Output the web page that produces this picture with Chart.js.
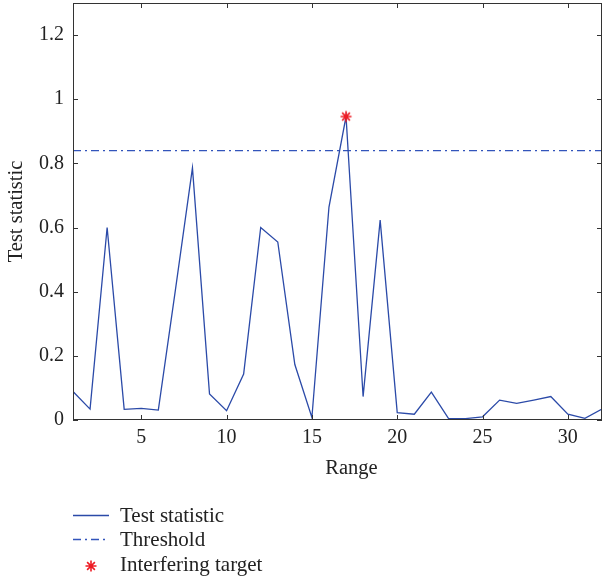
<!DOCTYPE html>
<html><head><meta charset="utf-8">
<script src="https://cdn.jsdelivr.net/npm/chart.js@4/dist/chart.umd.min.js"></script>
<style>html,body{margin:0;padding:0;background:#fff}#wrap{width:603px;height:583px}</style>
</head><body><div id="wrap"><canvas id="c" width="603" height="583"></canvas></div>
<script>
const rangeCells = [1,2,3,4,5,6,7,8,9,10,11,12,13,14,15,16,17,18,19,20,21,22,23,24,25,26,27,28,29,30,31,32];
const testStatistic = [0.089,0.034,0.600,0.033,0.036,0.031,0.405,0.786,0.081,0.029,0.143,0.600,0.555,0.173,0.008,0.664,0.946,0.073,0.623,0.023,0.018,0.087,0.005,0.004,0.010,0.062,0.052,0.062,0.073,0.018,0.005,0.034];
const thresholdRange = [1,32];
const thresholdValue = [0.84,0.84];
const targetRange = [17];
const targetValue = [0.946];
const xTicks = [5,10,15,20,25,30];
const yTicks = [0,0.2,0.4,0.6,0.8,1,1.2];
const seriesLabels = ['Test statistic','Threshold','Interfering target'];
const xTitle = 'Range';
const yTitle = 'Test statistic';

const FONT = 'Liberation Serif';
const lineColor = '#2b4aa8';
const dashColor = '#3355bb';
const starColor = '#ee1c25';

function drawAsterisk(ctx, cx, cy, r) {
  ctx.beginPath();
  for (let k = 0; k < 4; k++) {
    const ang = k * Math.PI / 4;
    ctx.moveTo(cx - r * Math.cos(ang), cy - r * Math.sin(ang));
    ctx.lineTo(cx + r * Math.cos(ang), cy + r * Math.sin(ang));
  }
  ctx.stroke();
}

// point style image for the asterisk marker
const starImg = document.createElement('canvas');
starImg.width = 14; starImg.height = 14;
(function () {
  const c = starImg.getContext('2d');
  c.strokeStyle = starColor; c.lineWidth = 1.6;
  drawAsterisk(c, 7, 7, 5.5);
})();

const boxPlugin = {
  id: 'boxTicks',
  afterDraw(chart) {
    const ctx = chart.ctx, a = chart.chartArea;
    const xs = chart.scales.x, ys = chart.scales.y;
    ctx.save();
    ctx.strokeStyle = '#333';
    ctx.lineWidth = 1;
    ctx.strokeRect(a.left + 0.5, a.top + 0.5, a.right - a.left - 1, a.bottom - a.top - 1);
    const L = 5;
    ctx.beginPath();
    xTicks.forEach(v => {
      const px = Math.round(xs.getPixelForValue(v)) + 0.5;
      ctx.moveTo(px, a.bottom); ctx.lineTo(px, a.bottom - L);
      ctx.moveTo(px, a.top); ctx.lineTo(px, a.top + L);
    });
    yTicks.forEach(v => {
      const py = Math.round(ys.getPixelForValue(v)) + 0.5;
      ctx.moveTo(a.left, py); ctx.lineTo(a.left + L, py);
      ctx.moveTo(a.right, py); ctx.lineTo(a.right - L, py);
    });
    ctx.stroke();

    // x-axis title (offset to the right as in the reference)
    ctx.fillStyle = '#222';
    ctx.font = '20.5px "' + FONT + '"';
    ctx.textAlign = 'center';
    ctx.textBaseline = 'middle';
    ctx.fillText(xTitle, 351.5, 469);

    // legend
    const rows = [516, 540, 565];
    ctx.font = '21px "' + FONT + '"';
    ctx.textAlign = 'left';
    rows.forEach((y, i) => ctx.fillText(seriesLabels[i], 120, y));
    ctx.lineWidth = 1.3;
    ctx.strokeStyle = lineColor;
    ctx.beginPath(); ctx.moveTo(73, 515.5); ctx.lineTo(109, 515.5); ctx.stroke();
    ctx.strokeStyle = dashColor;
    ctx.setLineDash([8, 4, 2, 4]);
    ctx.beginPath(); ctx.moveTo(73, 539.5); ctx.lineTo(109, 539.5); ctx.stroke();
    ctx.setLineDash([]);
    ctx.strokeStyle = starColor;
    ctx.lineWidth = 1.6;
    drawAsterisk(ctx, 91, 566, 5.5);
    ctx.restore();
  }
};

new Chart(document.getElementById('c'), {
  type: 'line',
  data: {
    datasets: [
      { label: seriesLabels[0], data: rangeCells.map((x, i) => ({x, y: testStatistic[i]})),
        borderColor: lineColor, borderWidth: 1.3, pointRadius: 0, tension: 0, fill: false, order: 2 },
      { label: seriesLabels[1], data: thresholdRange.map((x, i) => ({x, y: thresholdValue[i]})),
        borderColor: dashColor, borderWidth: 1.3, borderDash: [8, 4, 2, 4], pointRadius: 0, fill: false, order: 3 },
      { label: seriesLabels[2], data: targetRange.map((x, i) => ({x, y: targetValue[i]})),
        showLine: false, pointStyle: starImg, pointRadius: 0.5, pointBorderWidth: 0, pointHoverRadius: 0.5,
        borderColor: starColor, backgroundColor: starColor, order: 1 }
    ]
  },
  options: {
    responsive: false,
    devicePixelRatio: 1,
    animation: false,
    layout: { padding: { top: 3, right: 1, bottom: 103, left: 0 } },
    plugins: { legend: { display: false }, tooltip: { enabled: false } },
    scales: {
      x: {
        type: 'linear', min: 1, max: 32,
        afterBuildTicks: s => { s.ticks = xTicks.map(v => ({value: v})); },
        afterFit: s => { s.height = 60; s.paddingLeft = 0; s.paddingRight = 0; },
        grid: { display: false, drawTicks: false },
        border: { display: false },
        ticks: { font: { family: FONT, size: 20 }, color: '#222', padding: 6, maxRotation: 0 },
        title: { display: false }
      },
      y: {
        type: 'linear', min: 0, max: 1.3,
        afterBuildTicks: s => { s.ticks = yTicks.map(v => ({value: v})); },
        afterFit: s => { s.width = 73; s.paddingTop = 0; s.paddingBottom = 0; },
        grid: { display: false, drawTicks: false },
        border: { display: false },
        ticks: { font: { family: FONT, size: 20 }, color: '#222', padding: 9, callback: v => String(v) },
        title: { display: true, text: yTitle, font: { family: FONT, size: 20.5 }, color: '#222', padding: { top: 4, bottom: 0 } }
      }
    }
  },
  plugins: [boxPlugin]
});
</script></body></html>
